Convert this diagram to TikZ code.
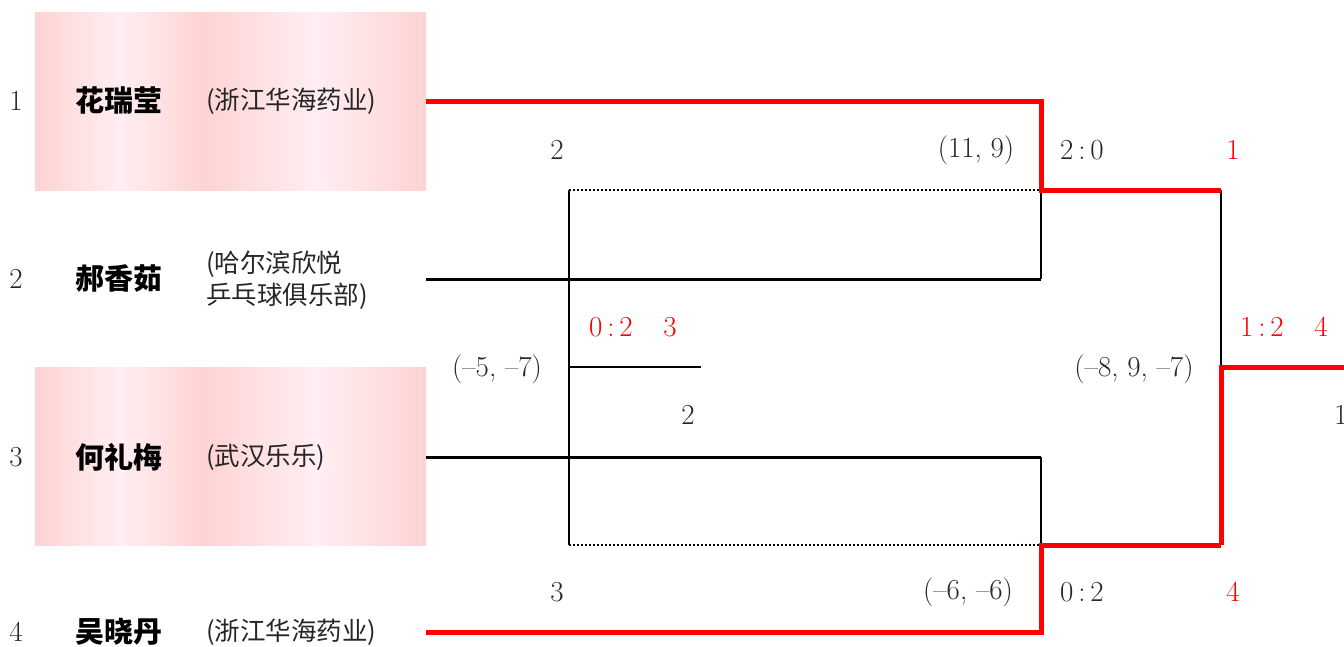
\documentclass[tikz,border=0pt]{standalone}
\usepackage{fontspec}
\newfontfamily\cjk{Noto Sans CJK SC}
\definecolor{pinkA}{RGB}{255,211,211}
\definecolor{pinkB}{RGB}{255,238,242}
\definecolor{redL}{RGB}{255,0,0}
\begin{document}
\begin{tikzpicture}[x=1pt,y=-1pt,
  num/.style={font=\fontsize{29}{32}\selectfont, text=black!85, inner sep=0pt},
  rnum/.style={font=\fontsize{29}{32}\selectfont, text=redL, inner sep=0pt},
  pname/.style={font=\cjk\bfseries\fontsize{29}{32}\selectfont, inner sep=0pt},
  club/.style={font=\cjk\fontsize{25.5}{32}\selectfont, text=black!85, inner sep=0pt, anchor=west, align=left},
  slot/.style={minimum width=391pt, minimum height=178pt, inner sep=0pt, draw=none},
  redline/.style={draw=redL, line width=5pt},
  blkline/.style={draw=black, line width=3pt},
  thinline/.style={draw=black, line width=2pt},
  dotline/.style={draw=black, line width=2pt, dotted}]
\useasboundingbox (0,0) rectangle (1344,646);
% shaded boxes
\foreach \y in {12,367}{
  \shade[left color=pinkA, right color=pinkB] (35,\y) rectangle (120,\y+178);
  \shade[left color=pinkB, right color=pinkA] (120,\y) rectangle (203,\y+178);
  \shade[left color=pinkA, right color=pinkB] (203,\y) rectangle (317,\y+178);
  \shade[left color=pinkB, right color=pinkA] (317,\y) rectangle (426,\y+178);
}
% player slots
\node[slot] (p1) at (230.5,101) {};
\node[slot] (p2) at (230.5,279) {};
\node[slot] (p3) at (230.5,457) {};
\node[slot] (p4) at (230.5,632) {};
% seeds
\node[num] (s1) at (16,101) {1};
\node[num] (s2) at (16,279) {2};
\node[num] (s3) at (16,457) {3};
\node[num] (s4) at (16,632) {4};
% names
\node[pname] (n1) at (119,101) {花瑞莹};
\node[pname] (n2) at (119,279) {郝香茹};
\node[pname] (n3) at (119,457) {何礼梅};
\node[pname] (n4) at (119,632) {吴晓丹};
\node[club] (c1) at (206,101) {(浙江华海药业)};
\node[club] (c2) at (206,280) {(哈尔滨欣悦\\乒乓球俱乐部)};
\node[club] (c3) at (206,457) {(武汉乐乐)};
\node[club] (c4) at (206,632) {(浙江华海药业)};
% junctions
\coordinate (t1) at (1041,101);
\coordinate (m12) at (1041,190);
\coordinate (t2) at (1041,279);
\coordinate (t3) at (1041,457);
\coordinate (m34) at (1041,545);
\coordinate (t4) at (1041,632);
\coordinate (r1) at (1221,190);
\coordinate (r2) at (1221,545);
\coordinate (fin) at (1221,367);
\coordinate (out) at (1344,367);
\coordinate (d1) at (569,190);
\coordinate (d2) at (569,545);
\coordinate (d3) at (569,367);
\coordinate (d4) at (701,367);
% lines
\draw[blkline] (p2.east) -- (t2);
\draw[thinline] (t2) -- (m12);
\draw[blkline] (p3.east) -- (t3);
\draw[thinline] (t3) -- (m34);
\draw[thinline] (r1) -- (fin);
\draw[dotline] (d1) -- (m12);
\draw[dotline] (d2) -- (m34);
\draw[draw=black, line width=2.5pt] (d1) -- (d2);
\draw[thinline] (d3) -- (d4);
\draw[redline, line join=miter] (p1.east) -- (t1) -- (m12) -- (r1);
\draw[redline, line join=miter] (p4.east) -- (t4) -- (m34) -- (r2);
\draw[redline, line join=miter] (r2) -- (fin) -- (out);
% labels
\node[num] (l1) at (557,150) {2};
\node[num] (l2) at (557,592) {3};
\node[num] (l3) at (976,150) {(11, 9)};
\node[num] (l4) at (1082,150) {2\,:\,0};
\node[rnum] (l5) at (1233,150) {1};
\node[num] (l6) at (968,592) {(--6, --6)};
\node[num] (l7) at (1082,592) {0\,:\,2};
\node[rnum] (l8) at (1233,592) {4};
\node[num] (l9) at (497,369) {(--5, --7)};
\node[rnum] (l10) at (611,327) {0\,:\,2};
\node[rnum] (l11) at (670,327) {3};
\node[num] (l12) at (688,415) {2};
\node[num] (l13) at (1134,369) {(--8, 9, --7)};
\node[rnum] (l14) at (1262,327) {1\,:\,2};
\node[rnum] (l15) at (1321,327) {4};
\node[num, anchor=west] (l16) at (1334,415) {1};
\end{tikzpicture}
\end{document}
